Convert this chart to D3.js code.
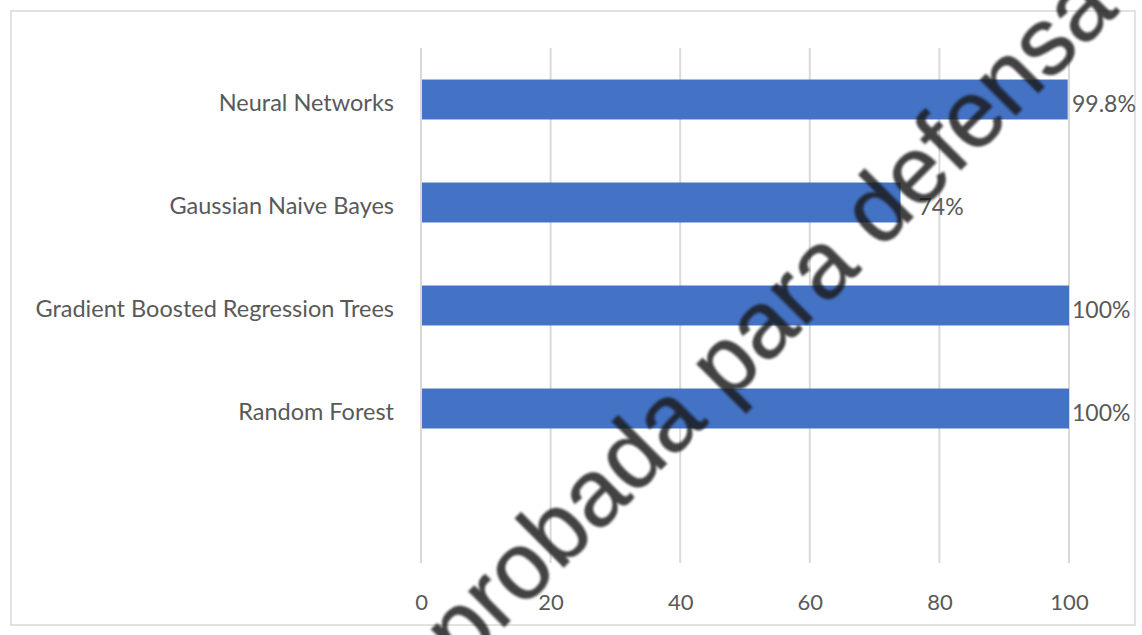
<!DOCTYPE html>
<html>
<head>
<meta charset="utf-8">
<script src="https://cdn.jsdelivr.net/npm/d3@7"></script>
<style>
  body { margin: 0; background: #fff; }
  svg { display: block; }
  text { font-family: Lato, "Noto Sans", sans-serif; fill: #595959; }
</style>
</head>
<body>
<svg width="1142" height="635"></svg>
<script>
// chart data (bottom row of the Excel table is an empty category)
const categories = ['Neural Networks', 'Gaussian Naive Bayes', 'Gradient Boosted Regression Trees', 'Random Forest', ''];
const accuracy = [99.8, 74, 100, 100];
const valueLabels = ['99.8%', '74%', '100%', '100%'];
const xTicks = [0, 20, 40, 60, 80, 100];
const watermark = 'Aprobada para defensa';

const svg = d3.select('svg');

// outer chart border
svg.append('rect')
    .attr('x', 11).attr('y', 11)
    .attr('width', 1124).attr('height', 614)
    .attr('fill', 'none')
    .attr('stroke', '#d9d9d9')
    .attr('stroke-width', 1.5);

const x = d3.scaleLinear().domain([0, 100]).range([421, 1069]);
const y = d3.scaleBand().domain(categories).range([48, 563])
    .paddingInner(0.612).paddingOuter(0.306);

// vertical gridlines
svg.append('g').selectAll('line')
    .data(xTicks)
    .join('line')
    .attr('x1', d => x(d)).attr('x2', d => x(d))
    .attr('y1', 48).attr('y2', 563)
    .attr('stroke', '#d9d9d9')
    .attr('stroke-width', 2);

// bars
const rows = accuracy.map((v, i) => ({ name: categories[i], value: v, label: valueLabels[i] }));

svg.append('g').selectAll('rect')
    .data(rows)
    .join('rect')
    .attr('x', x(0) + 1)
    .attr('y', d => y(d.name))
    .attr('width', d => x(d.value) - x(0) - 1)
    .attr('height', y.bandwidth())
    .attr('fill', '#4472c4');

// value labels - outside end, but pushed back in near the right edge like Excel does
svg.append('g').selectAll('text')
    .data(rows)
    .join('text')
    .attr('x', d => Math.min(x(d.value) + 18, x(100) + 3))
    .attr('y', d => y(d.name) + y.bandwidth() / 2 + 4)
    .attr('dy', '0.36em')
    .style('font-size', '23px')
    .text(d => d.label);

// category axis (labels only)
const yAxis = svg.append('g')
    .attr('transform', 'translate(421,4)')
    .call(d3.axisLeft(y).tickSize(0).tickPadding(27));
yAxis.select('.domain').remove();
yAxis.selectAll('text').style('font-size', '23.5px').attr('fill', '#595959');

// value axis (labels only)
const xAxis = svg.append('g')
    .attr('transform', 'translate(0,594)')
    .call(d3.axisBottom(x).tickValues(xTicks).tickSize(0).tickPadding(0));
xAxis.select('.domain').remove();
xAxis.selectAll('text').style('font-size', '22px').attr('fill', '#595959');

// diagonal watermark
const defs = svg.append('defs');
defs.append('filter').attr('id', 'soft')
    .append('feGaussianBlur').attr('stdDeviation', 0.9);

svg.append('text')
    .attr('transform', 'translate(748,342) rotate(-45)')
    .attr('text-anchor', 'middle')
    .attr('dy', '0.3em')
    .attr('filter', 'url(#soft)')
    .style('font-family', '"Liberation Sans", Arial, sans-serif')
    .style('font-size', '95px')
    .style('fill', '#1a1a1a')
    .style('fill-opacity', 0.82)
    .style('stroke', '#1a1a1a')
    .style('stroke-opacity', 0.6)
    .style('stroke-width', 1.2)
    .text(watermark);
</script>
</body>
</html>
